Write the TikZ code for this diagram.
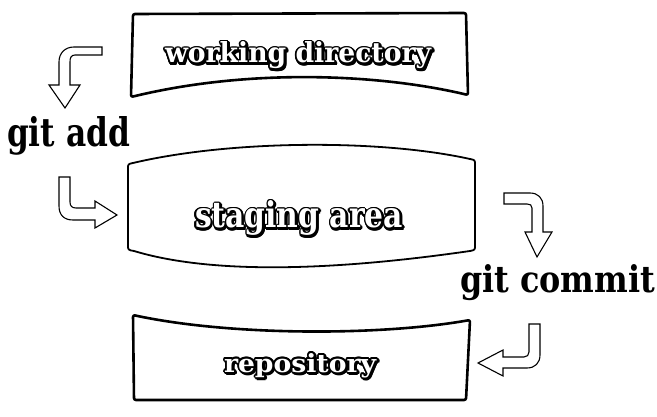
\documentclass[tikz,border=0pt]{standalone}
\usepackage{fontspec}
\usepackage{graphicx}
\newfontfamily\gfont{DejaVu Serif}
\newfontfamily\bfont{DejaVu Serif}
\newcommand\fatlabel[3]{%
  \foreach \a in {0,30,...,330}{%
    \pgfmathsetlengthmacro\dx{#1*cos(\a)}%
    \pgfmathsetlengthmacro\dy{#1*sin(\a)}%
    \pgfmathsetlengthmacro\sx{#1*cos(\a)+#2}%
    \pgfmathsetlengthmacro\sy{#1*sin(\a)-#2}%
    \rlap{\kern\dx\raisebox{\dy}{\color{black}#3}}%
    \rlap{\kern\sx\raisebox{\sy}{\color{black}#3}}}%
  \textcolor{white}{#3}}
\tikzset{
  boxline/.style={draw=black, line width=2.6pt, line join=round},
  thinbox/.style={draw=black, line width=1.8pt, line join=round},
  hollow/.style={draw=black, fill=white, line width=1.1pt, line join=miter},
  lbl/.style={anchor=base west, inner sep=0pt, outer sep=0pt}
}
\begin{document}
\begin{tikzpicture}[x=1pt, y=-1pt]
\path[use as bounding box] (0,0) rectangle (657,417);
% working directory box
\draw[boxline, rounded corners=2pt] (133,14) -- (466,13) -- (468,95)
  .. controls (380,74) and (250,68) .. (131,97) -- cycle;
% staging area box
\draw[thinbox] (133,163) .. controls (230,140) and (380,139) .. (470,159)
  .. controls (475,160) .. (475,165) -- (475,245)
  .. controls (475,250) .. (470,251)
  .. controls (380,264) and (230,280) .. (134,251)
  .. controls (128,250) .. (128,245) -- (128,169)
  .. controls (128,164) .. (133,163) -- cycle;
% repository box
\draw[boxline, rounded corners=2pt] (133,315) .. controls (230,336) and (380,336) .. (470,320)
  -- (466,400) -- (134,400) -- cycle;
% labels in boxes
\node[lbl] (wd) at (165,63) {\fatlabel{1.7pt}{1.3pt}{\resizebox{266pt}{21pt}{\bfont\bfseries working directory}}};
\node[lbl] (sa) at (195,228) {\fatlabel{1.5pt}{0.9pt}{\resizebox{208pt}{27pt}{\bfont\bfseries staging area}}};
\node[lbl] (rp) at (224,372) {\fatlabel{1.7pt}{1.3pt}{\resizebox{152pt}{19pt}{\bfont\bfseries repository}}};
% command labels
\node[lbl] (ga) at (7,147) {\resizebox{123pt}{30pt}{\gfont\bfseries git add}};
\node[lbl] (gc) at (460,293) {\resizebox{195pt}{28pt}{\gfont\bfseries git commit}};
% hollow arrows
\draw[hollow] (102,47) -- (74,47) .. controls (65,47) and (59,53) .. (59,62) -- (59,85)
  -- (49,85) -- (65,108) -- (80,85) -- (70,85) -- (70,62)
  .. controls (70,58) and (71,55) .. (75,55) -- (102,55) -- cycle;
\draw[hollow] (59,177) -- (70,177) -- (70,202) .. controls (70,206) and (72,208) .. (76,208)
  -- (95,208) -- (95,201) -- (117,215) -- (95,228) -- (95,220) -- (73,220)
  .. controls (64,220) and (59,215) .. (59,206) -- cycle;
\draw[hollow] (504,193) -- (530,193) .. controls (538,193) and (543,198) .. (543,206)
  -- (543,232) -- (552,232) -- (537,257) -- (525,232) -- (532,232) -- (532,208)
  .. controls (532,205) and (530,204) .. (527,204) -- (504,204) -- cycle;
\draw[hollow] (529,324) -- (540,324) -- (540,355) .. controls (540,363) and (535,368) .. (527,368)
  -- (503,368) -- (503,376) -- (478,363) -- (503,350) -- (503,357) -- (524,357)
  .. controls (527,357) and (529,355) .. (529,352) -- cycle;
\end{tikzpicture}
\end{document}
